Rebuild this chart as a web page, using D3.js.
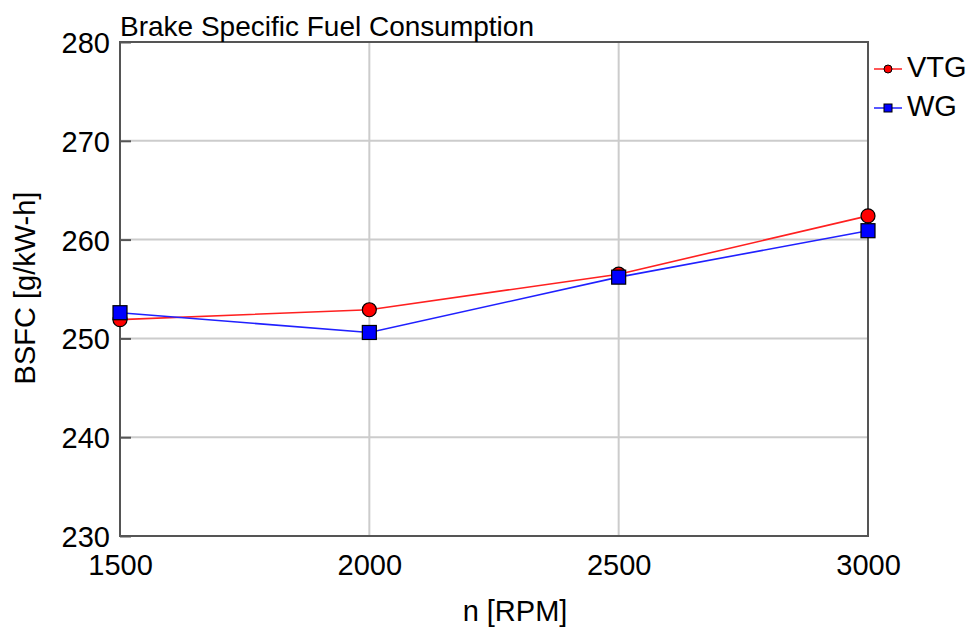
<!DOCTYPE html>
<html>
<head>
<meta charset="utf-8">
<script src="https://cdn.jsdelivr.net/npm/d3@7"></script>
<style>
  body { margin: 0; background: #fff; }
  text { font-family: "Liberation Sans", Arial, sans-serif; fill: #000; }
</style>
</head>
<body>
<div id="chart"></div>
<script>
const width = 970, height = 629;
const margin = {top: 42, right: 102, bottom: 93, left: 120};

// data
const rpm = [1500, 2000, 2500, 3000];
const vtg = [251.9, 252.9, 256.5, 262.4];
const wg = [252.6, 250.6, 256.2, 260.9];
const xTicks = [1500, 2000, 2500, 3000];
const yTicks = [230, 240, 250, 260, 270, 280];

const svg = d3.select("#chart").append("svg")
    .attr("width", width)
    .attr("height", height);

const x = d3.scaleLinear().domain([1500, 3000]).range([margin.left, width - margin.right]);
const y = d3.scaleLinear().domain([230, 280]).range([height - margin.bottom, margin.top]);

// grid
svg.append("g").selectAll("line")
    .data(yTicks.slice(1, -1))
    .join("line")
    .attr("x1", margin.left).attr("x2", width - margin.right)
    .attr("y1", d => y(d)).attr("y2", d => y(d))
    .attr("stroke", "#cccccc").attr("stroke-width", 2);

svg.append("g").selectAll("line")
    .data(xTicks.slice(1, -1))
    .join("line")
    .attr("x1", d => x(d)).attr("x2", d => x(d))
    .attr("y1", margin.top).attr("y2", height - margin.bottom)
    .attr("stroke", "#cccccc").attr("stroke-width", 2);

// axes (ticks inward)
const yAxis = svg.append("g")
    .attr("transform", `translate(${margin.left},0)`)
    .call(d3.axisLeft(y).tickValues(yTicks).tickSize(-11).tickPadding(10).tickSizeOuter(0));
yAxis.select(".domain").remove();
yAxis.selectAll(".tick line").attr("stroke", "#555").attr("stroke-width", 2);
yAxis.selectAll("text").style("font-size", "29px").attr("dy", "0.36em");

const xAxis = svg.append("g")
    .attr("transform", `translate(0,${height - margin.bottom})`)
    .call(d3.axisBottom(x).tickValues(xTicks).tickFormat(d3.format("d")).tickSize(0).tickPadding(18));
xAxis.select(".domain").remove();
xAxis.selectAll("text").style("font-size", "29px");

// frame
svg.append("rect")
    .attr("x", margin.left).attr("y", margin.top)
    .attr("width", width - margin.left - margin.right)
    .attr("height", height - margin.top - margin.bottom)
    .attr("fill", "none").attr("stroke", "#555").attr("stroke-width", 2);

// lines
const line = d3.line().x((d, i) => x(rpm[i])).y(d => y(d));

svg.append("path").datum(vtg)
    .attr("d", line).attr("fill", "none").attr("stroke", "#ff2020").attr("stroke-width", 1.6);
svg.append("path").datum(wg)
    .attr("d", line).attr("fill", "none").attr("stroke", "#2020ff").attr("stroke-width", 1.6);

svg.append("g").selectAll("circle")
    .data(vtg)
    .join("circle")
    .attr("cx", (d, i) => x(rpm[i])).attr("cy", d => y(d))
    .attr("r", 7).attr("fill", "#ff0000").attr("stroke", "#000").attr("stroke-width", 1.2);

svg.append("g").selectAll("rect")
    .data(wg)
    .join("rect")
    .attr("x", (d, i) => x(rpm[i]) - 7).attr("y", d => y(d) - 7)
    .attr("width", 14).attr("height", 14)
    .attr("fill", "#0000ff").attr("stroke", "#000").attr("stroke-width", 1.2);

// title and axis labels
svg.append("text")
    .attr("x", margin.left).attr("y", 36)
    .style("font-size", "28px")
    .text("Brake Specific Fuel Consumption");

svg.append("text")
    .attr("x", 515).attr("y", 621)
    .attr("text-anchor", "middle")
    .style("font-size", "29px")
    .text("n [RPM]");

svg.append("text")
    .attr("transform", `translate(35,288) rotate(-90)`)
    .attr("text-anchor", "middle")
    .style("font-size", "29px")
    .text("BSFC [g/kW-h]");

// legend
const legend = svg.append("g").attr("transform", `translate(${width - margin.right + 6},0)`);
legend.append("line").attr("x1", 0).attr("x2", 28).attr("y1", 69).attr("y2", 69)
    .attr("stroke", "#ff2020").attr("stroke-width", 1.5);
legend.append("circle").attr("cx", 14).attr("cy", 69).attr("r", 4)
    .attr("fill", "#ff0000").attr("stroke", "#000").attr("stroke-width", 1);
legend.append("text").attr("x", 33).attr("y", 77).style("font-size", "29px").text("VTG");

legend.append("line").attr("x1", 0).attr("x2", 28).attr("y1", 108).attr("y2", 108)
    .attr("stroke", "#2020ff").attr("stroke-width", 1.5);
legend.append("rect").attr("x", 10).attr("y", 104).attr("width", 8).attr("height", 8)
    .attr("fill", "#0000ff").attr("stroke", "#000").attr("stroke-width", 1);
legend.append("text").attr("x", 33).attr("y", 116).style("font-size", "29px").text("WG");
</script>
</body>
</html>
